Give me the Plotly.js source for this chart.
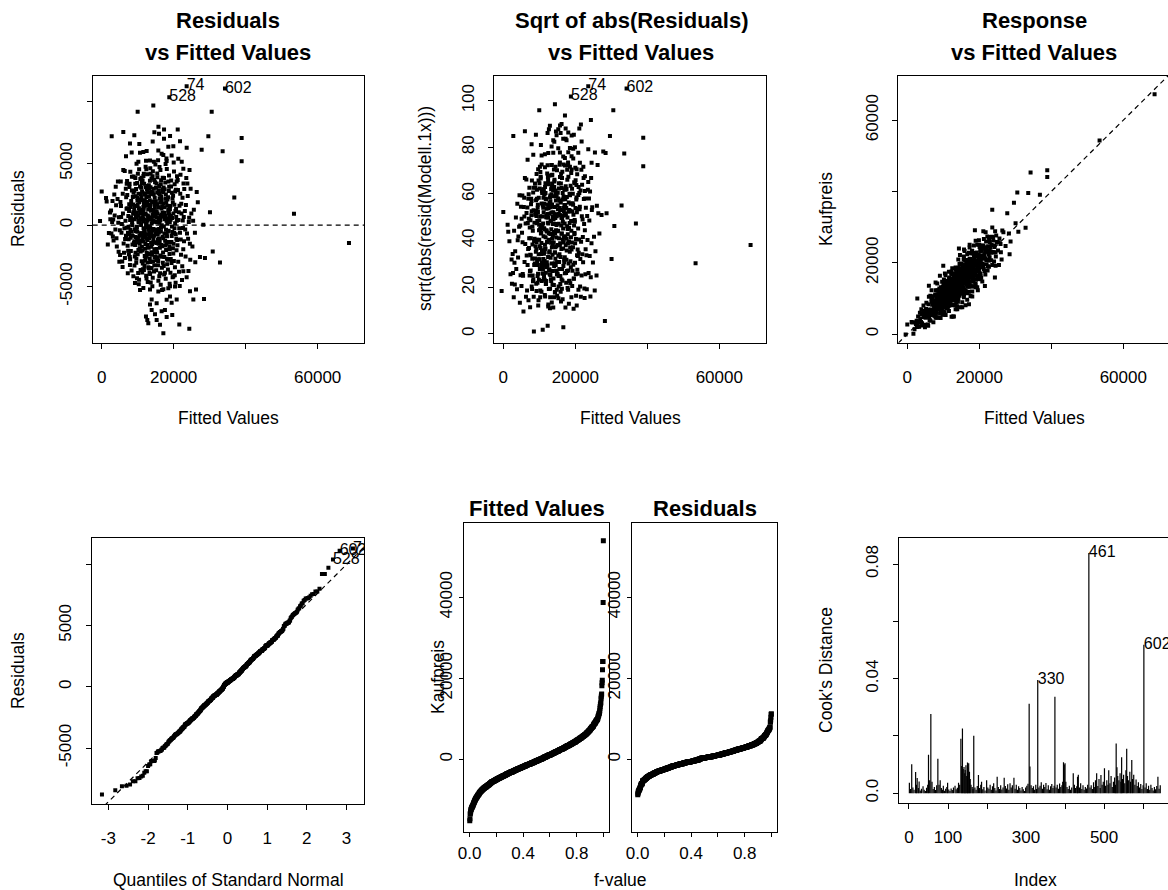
<!DOCTYPE html>
<html><head><meta charset="utf-8">
<script src="https://cdn.plot.ly/plotly-3.0.1.min.js"></script>
<style>html,body{margin:0;padding:0;overflow:hidden;background:#fff}#chart{width:1180px;height:890px}</style>
</head><body><div id="chart"></div>
<script>
// ---------------- data ----------------
// regression fit: fitted values and residuals of Modell.1x (bulk of the cloud)
const coreFitted = [
 -460, 0, 1200, 1380, 2000, 2300, 1700, 2400,
 2600, 3100, 3500, 4200, 4800, 2900, 3800, 4500, 3300, 4000, 2700, 4700, 3600, 4400, 3000, 4100, 4900, 3200, 3900, 4600,
 5100, 5900, 6400, 5500, 6800, 5300, 6100, 6600, 5700, 6900, 5200, 6300, 5800, 6700, 5400, 6000, 6500, 5600, 6200, 6950, 5050, 5850, 6450, 5350, 6750,
 7100, 7500, 7900, 8300, 8700, 7300, 7700, 8100, 8500, 8900, 7200, 7600, 8000, 8400, 8800, 7400, 7800, 8200, 8600, 7050, 7450, 7850, 8250, 8650, 8950, 7150, 7550, 7950, 8350, 8750, 7250, 7650, 8050, 8450, 8850, 7350, 7750, 8150, 8550, 7000, 8800, 7900, 8400, 7600, 8100,
 9050, 9200, 9350, 9500, 9650, 9800, 9950, 10100, 10250, 10400, 10550, 10700, 10850,
 9100, 9250, 9400, 9550, 9700, 9850, 10000, 10150, 10300, 10450, 10600, 10750, 10900,
 9150, 9300, 9450, 9600, 9750, 9900, 10050, 10200, 10350, 10500, 10650, 10800, 10950,
 9080, 9230, 9380, 9530, 9680, 9830, 9980, 10130, 10280, 10430, 10580, 10730, 10880,
 9180, 9330, 9480, 9630, 9780, 9930, 10080, 10230, 10380, 10530, 10680, 10830, 10980,
 11050, 11180, 11310, 11440, 11570, 11700, 11830, 11960, 12090, 12220, 12350, 12480, 12610, 12740, 12870, 12990,
 11100, 11230, 11360, 11490, 11620, 11750, 11880, 12010, 12140, 12270, 12400, 12530, 12660, 12790, 12920, 11020,
 11140, 11270, 11400, 11530, 11660, 11790, 11920, 12050, 12180, 12310, 12440, 12570, 12700, 12830, 12960, 11060,
 11080, 11210, 11340, 11470, 11600, 11730, 11860, 11990, 12120, 12250, 12380, 12510, 12640, 12770, 12900, 12450,
 11160, 11290, 11420, 11550, 11680, 11810, 11940, 12070, 12200, 12330, 12460, 12590, 12720, 12850, 12980, 11500,
 13050, 13180, 13310, 13440, 13570, 13700, 13830, 13960, 14090, 14220, 14350, 14480, 14610, 14740, 14870, 14990,
 13100, 13230, 13360, 13490, 13620, 13750, 13880, 14010, 14140, 14270, 14400, 14530, 14660, 14790, 14920, 13020,
 13140, 13270, 13400, 13530, 13660, 13790, 13920, 14050, 14180, 14310, 14440, 14570, 14700, 14830, 14960, 13060,
 13080, 13210, 13340, 13470, 13600, 13730, 13860, 13990, 14120, 14250, 14380, 14510, 14640, 14770, 14900, 14450,
 13160, 13290, 13420, 13550, 13680, 13810, 13940, 14070, 14200, 14330, 14460, 14590, 14720, 14850, 14980, 13500,
 15050, 15190, 15330, 15470, 15610, 15750, 15890, 16030, 16170, 16310, 16450, 16590, 16730, 16870,
 15100, 15240, 15380, 15520, 15660, 15800, 15940, 16080, 16220, 16360, 16500, 16640, 16780, 16920,
 15140, 15280, 15420, 15560, 15700, 15840, 15980, 16120, 16260, 16400, 16540, 16680, 16820, 16960,
 15080, 15220, 15360, 15500, 15640, 15780, 15920, 16060, 16200, 16340, 16480, 16620, 16760, 16900,
 15160, 15300, 15440, 15580, 15720, 15860, 16000, 16140, 16280, 16420, 16560, 16700, 16840, 16980,
 17050, 17180, 17310, 17440, 17570, 17700, 17830, 17960, 18090, 18220, 18350, 18480, 18610, 18740, 18870,
 17100, 17230, 17360, 17490, 17620, 17750, 17880, 18010, 18140, 18270, 18400, 18530, 18660, 18790, 18920,
 17140, 17270, 17400, 17530, 17660, 17790, 17920, 18050, 18180, 18310, 18440, 18570, 18700, 18830, 18960,
 17080, 17210, 17340, 17470, 17600, 17730, 17860, 17990, 18120, 18250, 18380, 18510, 18640, 18770, 18900,
 19050, 19180, 19310, 19440, 19570, 19700, 19830, 19960, 20090, 20220, 20350, 20480, 20610, 20740, 20870,
 19100, 19230, 19360, 19490, 19620, 19750, 19880, 20010, 20140, 20270, 20400, 20530, 20660, 20790, 20920,
 19140, 19270, 19400, 19530, 19660, 19790, 19920, 20050, 20180, 20310, 20440, 20570, 20700, 20830, 20960,
 21050, 21190, 21330, 21470, 21610, 21750, 21890, 22030, 22170, 22310, 22450, 22590, 22730, 22870,
 21120, 21260, 21400, 21540, 21680, 21820, 21960, 22100, 22240, 22380, 22520, 22660, 22800, 22940,
 23100, 23300, 23500, 23700, 23900, 24100, 24300, 24500, 24700, 23200, 23400, 23600, 23800, 24000, 24200, 24400, 24600, 24900,
 25200, 25600, 26000, 26400, 25400, 25900, 26700
];
const coreResid = [
 337, 2730, 2190, 1920, -652, 1014, -1581, 463,
 1173, -927, 2488, -1745, 634, 248, -366, 3537, -1252, 1614, -681, -2163, 772, 2115, 1956, -1074, -2969, 447, 3109, 179,
 -2437, 948, 4386, -619, 2263, 3527, -1488, 345, -2966, 1321, 1879, -254, -3412, 2938, 657, 4474, -1131, 92, -2245, 3356, -421, 2532, -2683, 1547, -874,
 2437, -1152, 414, -3681, 1663, -627, 3088, -2109, 1, 3934, -1679, 1138, -372, 2815, -4156, 726, -2588, 1953, -871, 3579, -131, -3247, 509, 2272, -1415, 1356, -2374, 4331, -547, 909, -3921, 1679, -1037, 252, 2614, -2081, 3363, 627, -1588, -209, 1045, -2766, 3921, -738, 1472,
 1237, -2552, 3814, -481, 663, -4327, 2188, -1409, 245, 4534, -1879, 938, -772,
 -3285, 1556, -974, 2931, -147, 3409, -2379, 772, -4815, 1856, 326, -1288, 2531,
 463, -1627, 2345, -3066, 1021, -538, 4172, -2015, 1356, -874, 3131, -3647, -3,
 2779, -337, -2252, 614, 4981, -1163, 1627, -3888, 345, 2066, -1521, 3738, -672,
 -1315, 3356, 874, -2731, -209, 1979, -1024, 2547, -4438, 1172, 515, -2156, 3031,
 2237, -1752, 614, -3581, 1463, 4173, -688, -2509, 945, 3066, -4121, 138, 1872, -1215, 2656, -374,
 -2931, 547, 3609, -979, -256, 1715, -3327, 2488, -1545, 866, 4521, -2238, 372, -4615, 1256, -774,
 1031, -3847, 2009, 279, -1337, 3352, -514, -2881, 1563, 5227, -1088, 2909, -3045, 766, -121, 3838,
 -672, 2715, -2056, 1231, 3974, -3647, 456, 1979, -815, -2638, 2272, -159, 4131, -1621, 656, -4347,
 3409, -1179, -3115, 872, 1331, -456, 2579, -1924, 4737, 12, -2488, 1627, -745, 3166, -3421, 538,
 -1837, 2952, 514, -3981, 1663, -727, 3788, -2409, 245, 4366, -1221, 1038, -3272, 2215, -356, 674,
 3231, -547, -2709, 1379, -4656, 2515, 127, -1538, 3972, -915, 1856, -3774, 731, -2179, 4924, -245,
 -1063, 1527, 3588, -3009, 445, -1766, 2721, -438, -4272, 1215, 2956, -874, -2631, 3479, 952, -3515,
 637, -2352, 2014, -181, 4163, -1427, -3488, 1909, 845, -2966, 321, 5138, -1972, 1415, -656, 2474,
 2331, -3847, -909, 3079, 1152, -2215, 563, -4974, 2627, -315, -1379, 3656, 1709, -2545, 266, 4621,
 1937, -2852, 614, 3881, -1163, -4527, 2588, 191, -1845, 4466, -521, 1338, -3472, 2915,
 -656, 3374, -2231, 947, 5256, -1509, -327, 2163, -3915, 772, 3647, -2579, 1531, -945,
 -3666, 1121, 2638, -772, -2915, 456, 3179, -1321, 1852, -4838, 2309, -8, -1714, 3845,
 3037, -1952, -414, 1681, -3263, 2827, -1088, 4709, 545, -2466, -221, 2038, -5272, 1015,
 -1456, 233, 4179, -2609, 1452, -614, -4163, 2481, 374, 3321, -1627, 845, 2772, -3056,
 -2237, 1752, 3814, -681, -3863, 727, 2488, -1509, 4545, 166, -2821, 1238, -472, 3115, -4756,
 674, -3331, 1447, 2909, -1279, 4952, -2027, 356, -909, 2074, -3615, 3538, 972, -1721, 245,
 2663, -127, -2588, 1009, 3445, -4366, 1821, -738, -3172, 515, 2256, -1374, 4031, -2347, 1309,
 -1079, 3052, -4014, 481, -1663, 2127, -388, 5409, -2745, 1566, -521, -5138, 2772, 815, -1956,
 1537, -2752, 3614, -881, 563, -4227, 2388, -1509, 4345, -266, -3421, 1138, 2872, -1115, 356,
 -3874, 731, -1379, 2615, -556, 1824, -2309, 5079, -652, 3315, 147, -4688, 1309, -2045, 3963,
 421, 3138, -3072, -115, 2156, -1874, 931, -2909, 1652, -4074, 2715, -756, 663, 3545, -1209,
 -1637, 2852, 414, -3781, 1563, -627, 4088, -2409, 945, -4466, 2221, -238, 3372, -1315,
 3656, -2974, 1031, -252, -4956, 2547, -1163, 1727, 5138, -3347, 379, -1974, 656, 2921,
 1137, -2552, 3814, -681, 2363, -3727, 588, -1509, 2945, -366, 1621, -4238, 3372, -1115, 256, 4474, -2821, 938,
 -1737, 1252, -3014, 2681, 345, -627, 1856
];
// points in the upper and lower tails
const tailFitted = [
 9990, 14340, 30560, 2780, 6000, 9060, 7860, 10450, 8330, 10640, 14630, 15760, 17320, 18990, 21120, 21760, 23610, 29630, 38880, 27770,
 33600, 38880, 15920, 17310, 13420, 15730, 16650, 18040, 19430, 21280, 22680, 11560, 10180, 6750, 19900, 14170, 12490, 18510, 17120,
 17130, 12300, 12670, 15270, 18050, 16650, 17570, 13420, 13880, 11570, 13420, 10650, 9250, 17130, 18980, 20370, 20830, 19900, 22680,
 24340, 21560, 24530, 26200, 25460, 28420, 15270, 19430, 13880, 18970, 15730, 18050, 12950, 16190, 19600, 14800,
 27300, 28690, 30850, 32860, 28230, 30080, 36840, 53420, 68700
];
const tailResid = [
 9190, 9700, 9190, 7200, 7560, 7290, 6620, 6570, 5900, 5860, 7540, 7980, 7760, 7230, 7760, 6810, 6270, 7200, 7070, 6120,
 5990, 5170, 7420, 7010, 5240, 6050, 5780, 5210, 5650, 5380, 4570, 5940, 5130, 5580, 6400, 6790, 6020, 6360, 5690,
 -8780, -7430, -7700, -7700, -7460, -7000, -6890, -6450, -6040, -5110, -5240, -5270, -4700, -5210, -4970, -4990, -6040, -4170, -3760,
 -8420, -8070, -5380, -5240, -6050, -6010, -6340, -6310, -6890, -5800, -5400, -6070, -7970, -8100, -7300, -7250,
 -2600, -2680, -2140, -3030, 30, 1030, 2240, 920, -1450
];
// the three labelled observations
const idNames = ["74", "602", "528"];
const idFitted = [23600, 34250, 18780];
const idResid = [11270, 11080, 10370];

// Cook's distance (observation index, value)
const cookIndex = [
 1,4,7,10,13,17,19,21,24,26,29,32,36,39,42,45,48,50,53,56,59,62,65,68,71,74,77,80,83,86,88,91,94,97,99,
 102,105,108,111,114,118,121,124,127,130,133,135,137,139,141,143,144,146,148,150,151,153,155,157,159,162,164,166,169,
 172,175,178,181,184,186,189,192,195,199,202,205,208,211,214,217,220,223,226,229,232,235,238,241,244,247,250,253,256,259,
 262,265,269,272,275,278,281,284,287,290,293,296,299,302,305,308,310,313,316,319,322,325,327,330,333,336,339,342,345,348,
 351,354,357,360,363,366,369,372,374,377,380,383,386,389,392,394,396,398,400,402,405,408,411,414,417,421,424,427,430,432,
 434,437,440,443,446,449,452,455,458,461,464,467,470,473,476,478,481,484,487,490,492,495,498,501,504,507,510,512,515,518,
 521,524,527,529,531,533,535,538,541,543,545,547,550,553,556,558,560,563,566,568,571,573,576,579,582,585,588,591,594,597,
 600,602,605,608,611,614,617,620,623,626,629,632,635,638,641,644
];
const cookValue = [
 .0037,.0015,.0101,.0020,.0012,.0074,.0030,.0053,.0018,.0041,.0010,.0016,.0024,.0012,.0008,.0019,.0030,.0134,.0045,.0277,.0040,.0015,.0022,.0011,.0028,.0120,.0030,.0045,.0018,.0012,.0026,.0009,.0016,.0022,.0037,
 .0013,.0008,.0017,.0011,.0020,.0026,.0014,.0019,.0037,.0030,.0190,.0095,.0226,.0085,.0092,.0070,.0081,.0098,.0060,.0107,.0090,.0105,.0075,.0050,.0030,.0022,.0015,.0201,.0020,
 .0012,.0025,.0064,.0018,.0030,.0040,.0014,.0022,.0010,.0045,.0020,.0016,.0030,.0012,.0024,.0035,.0018,.0010,.0058,.0022,.0015,.0028,.0013,.0020,.0054,.0025,.0017,.0031,.0012,.0035,
 .0020,.0028,.0054,.0016,.0030,.0012,.0024,.0018,.0010,.0022,.0014,.0008,.0020,.0026,.0033,.0312,.0093,.0028,.0018,.0024,.0012,.0030,.0015,.0395,.0020,.0026,.0038,.0016,.0030,.0022,
 .0036,.0014,.0028,.0012,.0024,.0032,.0018,.0026,.0337,.0020,.0030,.0016,.0034,.0022,.0028,.0040,.0108,.0100,.0105,.0040,.0022,.0015,.0026,.0012,.0020,.0070,.0030,.0018,.0024,.0058,
 .0065,.0020,.0035,.0015,.0028,.0012,.0022,.0017,.0030,.0839,.0020,.0028,.0015,.0038,.0022,.0045,.0070,.0025,.0050,.0018,.0064,.0030,.0040,.0087,.0026,.0045,.0030,.0080,.0035,.0060,
 .0022,.0040,.0055,.0030,.0174,.0091,.0060,.0045,.0070,.0040,.0126,.0050,.0065,.0035,.0080,.0155,.0060,.0045,.0075,.0040,.0116,.0050,.0065,.0030,.0048,.0025,.0038,.0020,.0032,.0015,
 .0028,.0518,.0020,.0035,.0015,.0026,.0012,.0030,.0018,.0010,.0022,.0014,.0025,.0058,.0016,.0028
];
const cookLabels = ["461", "330", "602"];

// axis tick values / labels
const fitTicks = [0, 20000, 40000, 60000];
const fitTickText = ["0", "20000", "", "60000"];
const resTicks = [-5000, 0, 5000, 10000];
const resTickText = ["-5000", "0", "5000", ""];
const sqrtTicks = [0, 20, 40, 60, 80, 100];
const respTicks = [0, 20000, 40000, 60000];
const respTickText = ["0", "20000", "", "60000"];
const qTicks = [-3, -2, -1, 0, 1, 2, 3];
const fvTicks = [0, 0.2, 0.4, 0.6, 0.8, 1.0];
const fvTickText = ["0.0", "", "0.4", "", "0.8", ""];
const rfsTicks = [0, 20000, 40000];
const idxTicks = [0, 100, 200, 300, 400, 500, 600];
const idxTickText = ["0", "100", "", "300", "", "500", ""];
const cookTicks = [0, 0.02, 0.04, 0.06, 0.08];
const cookTickText = ["0.0", "", "0.04", "", "0.08"];

// ---------------- derived statistics ----------------
const fitted = coreFitted.concat(tailFitted, idFitted);
const resid = coreResid.concat(tailResid, idResid);
const n = Math.min(fitted.length, resid.length);
fitted.length = n; resid.length = n;
const idStart = n - idNames.length;
const sqrtAbs = resid.map(r => Math.sqrt(Math.abs(r)));
const response = fitted.map((f, i) => f + resid[i]);

function qnorm(p){
 const a=[-3.969683028665376e+01,2.209460984245205e+02,-2.759285104469687e+02,1.383577518672690e+02,-3.066479806614716e+01,2.506628277459239e+00];
 const b=[-5.447609879822406e+01,1.615858368580409e+02,-1.556989798598866e+02,6.680131188771972e+01,-1.328068155288572e+01];
 const c=[-7.784894002430293e-03,-3.223964580411365e-01,-2.400758277161838e+00,-2.549671010046046e+00,4.374664141464968e+00,2.938163982698783e+00];
 const d=[7.784695709041462e-03,3.224671290700398e-01,2.445134137142996e+00,3.754408661907416e+00];
 const pl=0.02425, ph=1-pl; let q, r;
 if(p<pl){q=Math.sqrt(-2*Math.log(p));return (((((c[0]*q+c[1])*q+c[2])*q+c[3])*q+c[4])*q+c[5])/((((d[0]*q+d[1])*q+d[2])*q+d[3])*q+1);}
 if(p<=ph){q=p-0.5;r=q*q;return (((((a[0]*r+a[1])*r+a[2])*r+a[3])*r+a[4])*r+a[5])*q/(((((b[0]*r+b[1])*r+b[2])*r+b[3])*r+b[4])*r+1);}
 q=Math.sqrt(-2*Math.log(1-p));return -(((((c[0]*q+c[1])*q+c[2])*q+c[3])*q+c[4])*q+c[5])/((((d[0]*q+d[1])*q+d[2])*q+d[3])*q+1);
}
function quantile7(sorted, p){ const h=(sorted.length-1)*p, lo=Math.floor(h); return sorted[lo] + (h-lo)*((sorted[lo+1]??sorted[lo]) - sorted[lo]); }

const order = resid.map((r, i) => i).sort((a, b) => resid[a] - resid[b]);
const sortedRes = order.map(i => resid[i]);
const qTheo = order.map((_, k) => qnorm((k + 0.5) / n));
const rankOf = {}; order.forEach((idx, k) => rankOf[idx] = k);
const q1 = quantile7(sortedRes, 0.25), q3 = quantile7(sortedRes, 0.75);
const qqSlope = (q3 - q1) / (qnorm(0.75) - qnorm(0.25));
const qqInt = q1 - qqSlope * qnorm(0.25);

const meanFit = fitted.reduce((s, v) => s + v, 0) / n;
const sortedFitC = fitted.map(f => f - meanFit).sort((a, b) => a - b);
const fval = sortedRes.map((_, k) => (k + 0.5) / n);

const cookX = [], cookY = [];
cookIndex.forEach((ix, k) => { cookX.push(ix, ix, null); cookY.push(0, cookValue[k], null); });
const cookLab = cookLabels.map(s => { const ix = +s; return { x: ix, y: cookValue[cookIndex.indexOf(ix)] }; });

// ---------------- layout helpers ----------------
const W = 1180, H = 890;
const FONT = "Liberation Sans, Arial, Helvetica, sans-serif";
const fitRange = [-2500, 72900];
const resRange = [-9550, 12100];
const qRange = [-3.42, 3.44];
const fvRange = [-0.04, 1.04];
const rfsRange = [-17880, 58420];
const idxRange = [-25.6, 670];
const cookRange = [-0.0033, 0.089];

function dx(l, r){ return [l / W, r / W]; }
function dy(t, b){ return [1 - b / H, 1 - t / H]; }
function axis(o){
 return Object.assign({
  showline: true, mirror: true, linecolor: '#000', linewidth: 1,
  ticks: 'outside', ticklen: 5, tickwidth: 1, tickcolor: '#000',
  showgrid: false, zeroline: false, fixedrange: true, tickmode: 'array',
  tickfont: { family: FONT, size: 17, color: '#000' }
 }, o);
}
const mk = { symbol: 'square', size: 4, color: '#000', line: { width: 0 } };
const txtFont = { family: FONT, size: 16, color: '#000' };
const dashLine = { color: '#000', width: 1.2, dash: '5px,4px' };

const traces = [];
// P1 residuals vs fitted
traces.push({ type: 'scatter', mode: 'markers', x: fitted, y: resid, marker: mk, xaxis: 'x', yaxis: 'y', hoverinfo: 'skip' });
traces.push({ type: 'scatter', mode: 'text', x: idFitted, y: idResid, text: idNames, textposition: 'middle right', textfont: txtFont, xaxis: 'x', yaxis: 'y', hoverinfo: 'skip' });
// P2 sqrt abs residuals
traces.push({ type: 'scatter', mode: 'markers', x: fitted, y: sqrtAbs, marker: mk, xaxis: 'x2', yaxis: 'y2', hoverinfo: 'skip' });
traces.push({ type: 'scatter', mode: 'text', x: idFitted, y: idResid.map(r => Math.sqrt(Math.abs(r))), text: idNames, textposition: 'middle right', textfont: txtFont, xaxis: 'x2', yaxis: 'y2', hoverinfo: 'skip' });
// P3 response vs fitted
traces.push({ type: 'scatter', mode: 'lines', x: fitRange, y: fitRange, line: dashLine, xaxis: 'x3', yaxis: 'y3', hoverinfo: 'skip' });
traces.push({ type: 'scatter', mode: 'markers', x: fitted, y: response, marker: mk, xaxis: 'x3', yaxis: 'y3', hoverinfo: 'skip' });
// P4 normal QQ
traces.push({ type: 'scatter', mode: 'lines', x: qRange, y: qRange.map(q => qqInt + qqSlope * q), line: dashLine, xaxis: 'x4', yaxis: 'y4', hoverinfo: 'skip' });
traces.push({ type: 'scatter', mode: 'markers', x: qTheo, y: sortedRes, marker: mk, xaxis: 'x4', yaxis: 'y4', hoverinfo: 'skip' });
traces.push({ type: 'scatter', mode: 'text', x: idNames.map((_, j) => qTheo[rankOf[idStart + j]]), y: idResid, text: idNames, textposition: 'middle right', textfont: txtFont, xaxis: 'x4', yaxis: 'y4', hoverinfo: 'skip' });
// P5 residual-fit spread
traces.push({ type: 'scatter', mode: 'markers', x: fval, y: sortedFitC, marker: Object.assign({}, mk, { size: 5 }), xaxis: 'x5', yaxis: 'y5', hoverinfo: 'skip' });
traces.push({ type: 'scatter', mode: 'markers', x: fval, y: sortedRes, marker: Object.assign({}, mk, { size: 5 }), xaxis: 'x6', yaxis: 'y6', hoverinfo: 'skip' });
// P6 Cook's distance
traces.push({ type: 'scatter', mode: 'lines', x: cookX, y: cookY, line: { color: '#000', width: 1.2 }, connectgaps: false, xaxis: 'x7', yaxis: 'y7', hoverinfo: 'skip' });
traces.push({ type: 'scatter', mode: 'text', x: cookLab.map(c => c.x), y: cookLab.map(c => c.y), text: cookLabels, textposition: 'middle right', textfont: txtFont, cliponaxis: false, xaxis: 'x7', yaxis: 'y7', hoverinfo: 'skip' });

const topY = dy(76, 342.7), botY = dy(538.3, 804);
const xStd = { ticklabelstandoff: 14 };
const yStd = { tickangle: -90, ticklabelstandoff: 8 };
const layout = {
 width: W, height: H, margin: { l: 0, r: 0, t: 0, b: 0 }, showlegend: false,
 paper_bgcolor: '#fff', plot_bgcolor: '#fff', font: { family: FONT, color: '#000' },
 xaxis:  axis(Object.assign({ domain: dx(92.7, 364.1), range: fitRange, tickvals: fitTicks, ticktext: fitTickText, anchor: 'y' }, xStd)),
 yaxis:  axis(Object.assign({ domain: topY, range: resRange, tickvals: resTicks, ticktext: resTickText, anchor: 'x' }, yStd)),
 xaxis2: axis(Object.assign({ domain: dx(494.3, 765.7), range: fitRange, tickvals: fitTicks, ticktext: fitTickText, anchor: 'y2' }, xStd)),
 yaxis2: axis(Object.assign({ domain: topY, range: [-3.8, 110.6], tickvals: sqrtTicks, ticktext: sqrtTicks.map(String), anchor: 'x2' }, yStd)),
 xaxis3: axis(Object.assign({ domain: dx(898.3, 1169.7), range: fitRange, tickvals: fitTicks, ticktext: fitTickText, anchor: 'y3' }, xStd)),
 yaxis3: axis(Object.assign({ domain: topY, range: [-2400, 72400], tickvals: respTicks, ticktext: respTickText, anchor: 'x3' }, yStd)),
 xaxis4: axis(Object.assign({ domain: dx(91.7, 364), range: qRange, tickvals: qTicks, ticktext: qTicks.map(String), anchor: 'y4' }, xStd)),
 yaxis4: axis(Object.assign({ domain: botY, range: resRange, tickvals: resTicks, ticktext: resTickText, anchor: 'x4' }, yStd)),
 xaxis5: axis({ domain: dx(464.3, 608.8), range: fvRange, tickvals: fvTicks, ticktext: fvTickText, anchor: 'y5', ticklen: 4, ticklabelstandoff: 2 }),
 yaxis5: axis({ domain: dy(522.7, 831.7), range: rfsRange, tickvals: rfsTicks, ticktext: rfsTicks.map(String), anchor: 'x5', ticklen: 4, tickangle: -90, ticklabelstandoff: 1 }),
 xaxis6: axis({ domain: dx(632.3, 776.8), range: fvRange, tickvals: fvTicks, ticktext: fvTickText, anchor: 'y6', ticklen: 4, ticklabelstandoff: 2 }),
 yaxis6: axis({ domain: dy(522.7, 831.7), range: rfsRange, tickvals: rfsTicks, ticktext: rfsTicks.map(String), anchor: 'x6', ticklen: 4, tickangle: -90, ticklabelstandoff: 1 }),
 xaxis7: axis(Object.assign({ domain: dx(899, 1170.4), range: idxRange, tickvals: idxTicks, ticktext: idxTickText, anchor: 'y7' }, xStd)),
 yaxis7: axis(Object.assign({ domain: dy(538.3, 802.7), range: cookRange, tickvals: cookTicks, ticktext: cookTickText, anchor: 'x7' }, yStd)),
 shapes: [
  { type: 'line', xref: 'x domain', x0: 0, x1: 1, yref: 'y', y0: 0, y1: 0, line: dashLine }
 ],
 annotations: []
};
function ann(text, px, py, size, o){
 return Object.assign({ text: text, x: px / W, y: 1 - py / H, xref: 'paper', yref: 'paper', showarrow: false,
  xanchor: 'center', yanchor: 'middle', font: { family: FONT, size: size, color: '#000' } }, o || {});
}
const TS = 22, LS = 17.5;
layout.annotations.push(
 ann('<b>Residuals</b>', 228, 20, TS), ann('<b>vs Fitted Values</b>', 228, 53, TS),
 ann('<b>Sqrt of abs(Residuals)</b>', 631, 20, TS), ann('<b>vs Fitted Values</b>', 631, 53, TS),
 ann('<b>Response</b>', 1034, 20, TS), ann('<b>vs Fitted Values</b>', 1034, 53, TS),
 ann('<b>Fitted Values</b>', 536.5, 508, TS), ann('<b>Residuals</b>', 704.5, 508, TS),
 ann('Fitted Values', 228, 418, LS), ann('Fitted Values', 630, 418, LS), ann('Fitted Values', 1034, 418, LS),
 ann('Quantiles of Standard Normal', 228, 880, LS), ann('f-value', 620, 880, LS), ann('Index', 1035, 880, LS),
 ann('Residuals', 18, 209, LS, { textangle: -90 }),
 ann('sqrt(abs(resid(Modell.1x)))', 425, 209, LS, { textangle: -90 }),
 ann('Kaufpreis', 826, 209, LS, { textangle: -90 }),
 ann('Residuals', 18, 671, LS, { textangle: -90 }),
 ann('Kaufpreis', 438, 677, LS, { textangle: -90 }),
 ann("Cook's Distance", 826, 670, LS, { textangle: -90 })
);
Plotly.newPlot('chart', traces, layout, { staticPlot: true, displayModeBar: false });
</script>
</body></html>
